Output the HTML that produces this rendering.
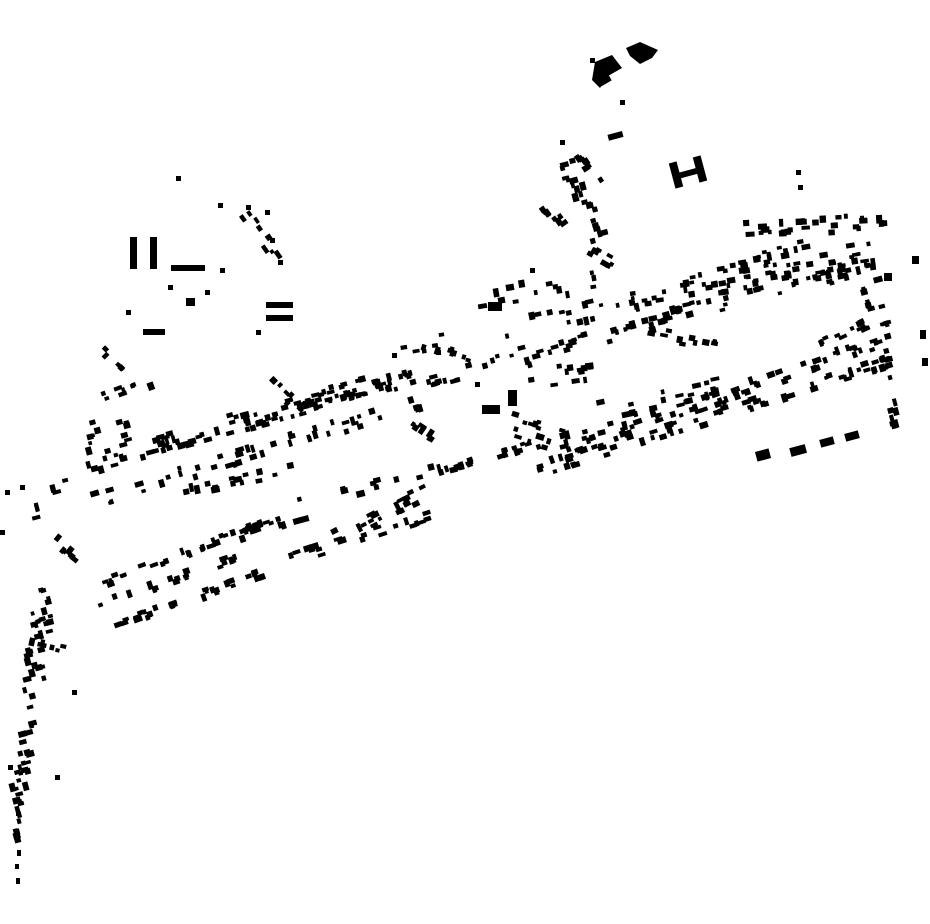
<!DOCTYPE html>
<html><head><meta charset="utf-8"><style>html,body{margin:0;padding:0;background:#fff}svg{display:block}</style></head>
<body>
<svg id="s" width="930" height="924" viewBox="0 0 930 924" xmlns="http://www.w3.org/2000/svg">
<rect width="930" height="924" fill="#fff"/>
<g fill="#000">
<polygon points="595,62 612,55 622,68 608,76 600,88 592,80"/>
<polygon points="626,48 640,42 658,50 652,58 640,64 630,56"/>
<rect x="598" y="74" width="12" height="10" transform="rotate(-30 604 79)"/>
<rect x="672" y="162" width="8" height="26" transform="rotate(-15 676 175)"/>
<rect x="696" y="156" width="8" height="26" transform="rotate(-15 700 169)"/>
<rect x="678" y="170" width="22" height="6" transform="rotate(-15 689 173)"/>
<rect x="130" y="237" width="7" height="32"/>
<rect x="150" y="237" width="7" height="32"/>
<rect x="171" y="265" width="34" height="6"/>
<rect x="266" y="302" width="27" height="6"/>
<rect x="266" y="315" width="27" height="6"/>
<rect x="143" y="329" width="22" height="6"/>
<rect x="186" y="298" width="9" height="8"/>
<rect x="482" y="405" width="18" height="9"/>
<rect x="508" y="390" width="9" height="16"/>
<rect x="488" y="302" width="14" height="9"/>
<rect x="608" y="133" width="15" height="6" transform="rotate(-15 615 136)"/>
<rect x="884" y="273" width="8" height="8"/>
<rect x="912" y="256" width="7" height="8"/>
<rect x="920" y="330" width="6" height="9"/>
<rect x="922" y="358" width="6" height="8"/>
<rect x="756" y="450" width="14" height="10" transform="rotate(-15 763 455)"/>
<rect x="790" y="446" width="16" height="9" transform="rotate(-15 798 450)"/>
<rect x="820" y="438" width="14" height="8" transform="rotate(-15 827 442)"/>
<rect x="845" y="432" width="14" height="8" transform="rotate(-15 852 436)"/>
<rect x="293" y="517" width="16" height="6" transform="rotate(-15 301 520)"/>
<rect x="16" y="810" width="4" height="6"/>
<rect x="15" y="832" width="4" height="5"/>
<rect x="17" y="850" width="4" height="6"/>
<rect x="15" y="864" width="4" height="5"/>
<rect x="16" y="878" width="4" height="6"/>
</g>
<g id="g" fill="#000"></g>
</svg>
<script>
(function(){
var seed=12345;function r(){seed=(seed*1103515245+12345)%2147483648;return seed/2147483648;}
var g=document.getElementById('g');var out='';
var S=[
[85,468,415,378,60,6],[95,500,425,402,45,8],[100,455,410,370,30,5],
[105,582,270,522,28,4],[115,625,265,572,30,4],[100,605,245,555,18,4],
[180,492,300,468,16,5],[210,545,285,520,14,5],[290,560,430,515,22,6],[330,540,430,490,18,8],[300,505,470,462,14,6],
[420,382,525,355,16,8],[480,300,600,280,14,10],[500,330,640,300,18,10],[520,360,700,310,25,8],
[530,380,600,370,12,12],[495,420,560,440,14,12],[500,455,545,440,10,6],
[540,470,890,362,60,6],[548,458,885,340,55,6],[560,440,700,405,20,8],[600,410,720,385,16,10],
[620,300,880,262,45,8],[600,330,870,270,35,8],[685,280,870,250,30,10],[740,230,885,222,28,8],[755,255,810,245,10,6],
[880,275,895,430,18,3],[860,270,870,310,6,3],
[565,160,600,240,22,8],[580,155,600,185,8,5],[545,205,570,240,8,6],[590,250,625,270,8,6],
[100,400,150,382,8,5],[98,420,92,470,8,6],[120,420,130,440,5,5],
[44,590,32,700,30,10],[20,640,65,650,6,4],[30,700,18,800,22,7],[18,800,15,880,10,3],
[55,540,80,560,6,5],[65,480,30,520,6,5],[420,345,470,360,8,6],[390,350,450,340,5,8],
[240,205,280,262,8,6],[100,345,125,370,5,4],[410,420,440,440,8,6],[440,470,470,460,6,4],
[270,380,300,410,6,5],[300,405,400,380,18,6],[640,330,720,345,10,6],[810,350,865,325,12,5]
];
S.forEach(function(s){
var dx=s[2]-s[0],dy=s[3]-s[1],a=Math.atan2(dy,dx)*180/Math.PI;
if(a>60||a<-60)a=-15;
for(var i=0;i<s[4];i++){
var t=r();var L=Math.hypot(dx,dy)||1;
var px=-dy/L,py=dx/L,o=(r()-0.5)*2*s[5];
var x=s[0]+dx*t+px*o,y=s[1]+dy*t+py*o;
var w=3.5+r()*5.5,h=3.5+r()*3;if(r()<0.3){var q=w;w=h;h=q;}
out+='<rect x="'+(x-w/2).toFixed(1)+'" y="'+(y-h/2).toFixed(1)+'" width="'+w.toFixed(1)+'" height="'+h.toFixed(1)+'" transform="rotate('+a.toFixed(1)+' '+x.toFixed(1)+' '+y.toFixed(1)+')"/>';
}});
var extra=[[176,176],[218,203],[246,205],[265,210],[270,238],[278,260],[126,310],[256,330],[220,268],[168,285],[205,290],[392,353],[436,350],[560,140],[590,58],[620,100],[796,170],[798,185],[72,690],[55,775],[5,490],[20,485],[0,530],[8,765],[475,382],[530,268]];
extra.forEach(function(p){out+='<rect x="'+p[0]+'" y="'+p[1]+'" width="5" height="5"/>';});
g.innerHTML=out;
})();
</script>
</body></html>
